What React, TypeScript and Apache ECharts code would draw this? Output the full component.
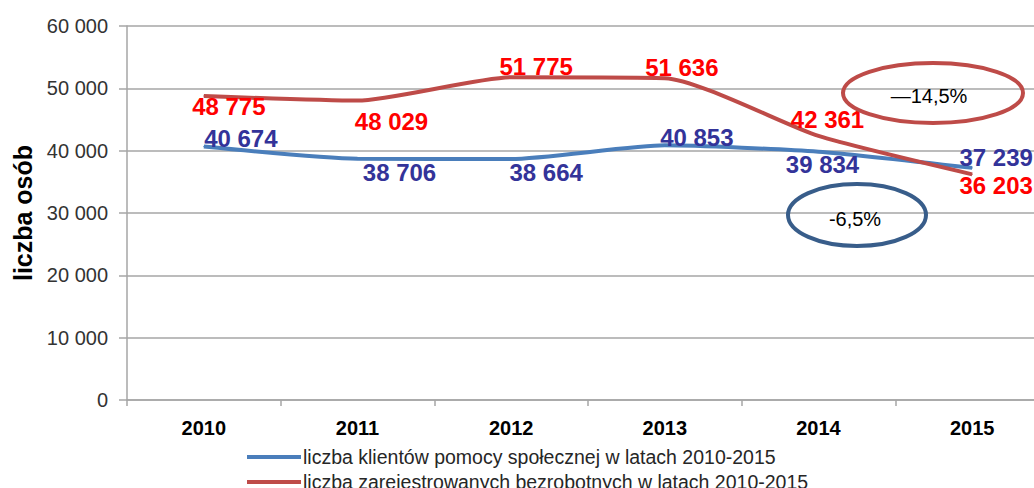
import React, { useEffect, useRef } from "react";
import * as echarts from "echarts";

const years = ["2010", "2011", "2012", "2013", "2014", "2015"];
const clients = [40674, 38706, 38664, 40853, 39834, 37239];
const unemployed = [48775, 48029, 51775, 51636, 42361, 36203];
const seriesNames = [
  "liczba klientów pomocy społecznej w latach 2010-2015",
  "liczba zarejestrowanych bezrobotnych w latach 2010-2015",
];
const yTicks = { min: 0, max: 60000, interval: 10000 };
const yAxisName = "liczba osób";
const noteUnemployed = "—14,5%";
const noteClients = "-6,5%";

// label offsets relative to each point (style only)
const clientLabelOffsets = [[37, -8], [42, 14], [35, 14], [32, -8], [4, 13], [24, -10]];
const unempLabelOffsets = [[25, 11], [34, 21], [25, -11], [17, -11], [9, -16], [24, 11]];
const labelOffsets = [clientLabelOffsets, unempLabelOffsets];

const fmt = (v: number) => String(v).replace(/\B(?=(\d{3})+(?!\d))/g, " ");
const FONT = "'Liberation Sans', Arial, sans-serif";

export default function App() {
  const ref = useRef<HTMLDivElement>(null);
  useEffect(() => {
    if (!ref.current) return;
    const chart = echarts.init(ref.current, undefined, { renderer: "svg" });
    const labelBase = {
      show: true,
      position: "inside",
      fontFamily: FONT,
      fontWeight: "bold",
      fontSize: 24,
      formatter: (p: any) => fmt(p.value),
    };
    const layoutFn = (p: any) => {
      const o = labelOffsets[p.seriesIndex][p.dataIndex];
      return { dx: o[0], dy: o[1], hideOverlap: false };
    };
    const legendBase = {
      orient: "vertical",
      left: 247,
      padding: 0,
      icon: "rect",
      itemWidth: 54,
      itemHeight: 4,
      itemGap: 4,
      textStyle: { fontFamily: FONT, fontSize: 19.5, color: "#262626", padding: [0, 0, 0, -3] },
    };
    chart.setOption({
      animation: false,
      backgroundColor: "#ffffff",
      grid: { left: 127, width: 922, top: 26, height: 374, containLabel: false, outerBoundsMode: "none" },
      legend: [
        { ...legendBase, top: 447, data: [{ name: seriesNames[0], itemStyle: { color: "#4a7ebb" } }] },
        { ...legendBase, top: 472, data: [{ name: seriesNames[1], itemStyle: { color: "#be4b48" } }] },
      ],
      xAxis: {
        type: "category",
        data: years,
        boundaryGap: true,
        axisLine: { lineStyle: { color: "#a6a6a6", width: 1.5 } },
        axisTick: { show: true, length: 6, lineStyle: { color: "#a6a6a6", width: 1.5 } },
        axisLabel: { fontFamily: FONT, fontWeight: "bold", fontSize: 20, color: "#000", margin: 18 },
      },
      yAxis: {
        type: "value",
        min: yTicks.min,
        max: yTicks.max,
        interval: yTicks.interval,
        name: yAxisName,
        nameLocation: "middle",
        nameGap: 92,
        nameTextStyle: { fontFamily: FONT, fontWeight: "bold", fontSize: 25, color: "#000" },
        axisLine: { show: true, lineStyle: { color: "#a6a6a6", width: 1.5 } },
        axisTick: { show: true, length: 8, lineStyle: { color: "#a6a6a6", width: 1.5 } },
        splitLine: { lineStyle: { color: "#a6a6a6", width: 1.5 } },
        axisLabel: { fontFamily: FONT, fontSize: 20, color: "#333", margin: 19, formatter: (v: number) => fmt(v) },
      },
      series: [
        {
          name: seriesNames[0],
          type: "line",
          smooth: 0.2,
          symbol: "circle",
          symbolSize: 1,
          showSymbol: true,
          lineStyle: { color: "#4a7ebb", width: 4 },
          itemStyle: { color: "#4a7ebb" },
          label: { ...labelBase, color: "#333399" },
          labelLayout: layoutFn,
          data: clients,
          z: 3,
        },
        {
          name: seriesNames[1],
          type: "line",
          smooth: 0.2,
          symbol: "circle",
          symbolSize: 1,
          showSymbol: true,
          lineStyle: { color: "#be4b48", width: 4 },
          itemStyle: { color: "#be4b48" },
          label: { ...labelBase, color: "#ff0000" },
          labelLayout: layoutFn,
          data: unemployed,
          z: 4,
        },
      ],
      graphic: [
        {
          type: "ellipse",
          shape: { cx: 933, cy: 93, rx: 90, ry: 30 },
          style: { fill: "none", stroke: "#be4b48", lineWidth: 4 },
          z: 10,
        },
        {
          type: "text",
          x: 929,
          y: 96,
          style: { text: noteUnemployed, fontFamily: FONT, fontSize: 20, fill: "#000", align: "center", verticalAlign: "middle" },
          z: 11,
        },
        {
          type: "ellipse",
          shape: { cx: 857, cy: 215, rx: 69, ry: 31 },
          style: { fill: "none", stroke: "#385d8a", lineWidth: 4 },
          z: 10,
        },
        {
          type: "text",
          x: 855,
          y: 219,
          style: { text: noteClients, fontFamily: FONT, fontSize: 20, fill: "#000", align: "center", verticalAlign: "middle" },
          z: 11,
        },
      ],
    });
    return () => chart.dispose();
  }, []);
  return (
    <div
      ref={ref}
      style={{ position: "fixed", left: 0, top: 0, width: 1034, height: 488, background: "#fff" }}
    />
  );
}
